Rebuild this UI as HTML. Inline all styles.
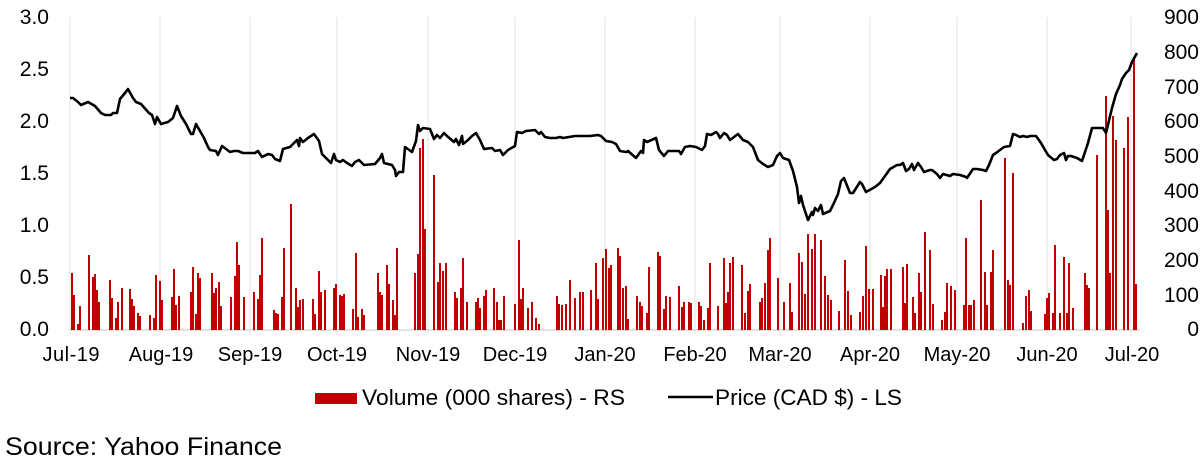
<!DOCTYPE html>
<html><head><meta charset="utf-8"><style>
body{margin:0;background:#fff;}
svg{display:block;font-family:"Liberation Sans",Arial,sans-serif;}
</style></head><body>
<svg width="1201" height="464" viewBox="0 0 1201 464" xmlns="http://www.w3.org/2000/svg">
<g stroke="#e3e3e3" stroke-width="1">
<line x1="70" y1="17" x2="70" y2="335"/><line x1="160" y1="17" x2="160" y2="335"/><line x1="250" y1="17" x2="250" y2="335"/><line x1="337" y1="17" x2="337" y2="335"/><line x1="428" y1="17" x2="428" y2="335"/><line x1="515" y1="17" x2="515" y2="335"/><line x1="605" y1="17" x2="605" y2="335"/><line x1="695" y1="17" x2="695" y2="335"/><line x1="780" y1="17" x2="780" y2="335"/><line x1="870" y1="17" x2="870" y2="335"/><line x1="957" y1="17" x2="957" y2="335"/><line x1="1047" y1="17" x2="1047" y2="335"/><line x1="1131" y1="17" x2="1131" y2="335"/>
</g>
<line x1="70" y1="330" x2="1140" y2="330" stroke="#d9d9d9" stroke-width="1.5"/>
<path fill="#c00000" d="M71,330V273h2V330zM73,330V295h2V330zM77,330V324h2V330zM79,330V306h2V330zM88,330V255h2V330zM92,330V277h2V330zM94,330V274h2V330zM96,330V290h2V330zM98,330V302h2V330zM109,330V280h2V330zM111,330V298h2V330zM115,330V318h2V330zM117,330V302h2V330zM121,330V288h2V330zM129,330V289h2V330zM131,330V299h2V330zM133,330V306h2V330zM137,330V313h2V330zM139,330V316h2V330zM149,330V315h2V330zM153,330V318h2V330zM155,330V275h2V330zM159,330V281h2V330zM161,330V300h2V330zM171,330V297h2V330zM173,330V269h2V330zM175,330V305h2V330zM178,330V296h2V330zM190,330V292h2V330zM192,330V267h2V330zM195,330V314h2V330zM197,330V273h2V330zM199,330V278h2V330zM211,330V273h2V330zM213,330V293h2V330zM215,330V288h2V330zM218,330V282h2V330zM220,330V306h2V330zM230,330V297h2V330zM234,330V276h2V330zM236,330V242h2V330zM238,330V265h2V330zM243,330V297h2V330zM253,330V292h2V330zM257,330V299h2V330zM259,330V275h2V330zM261,330V238h2V330zM273,330V310h2V330zM275,330V313h2V330zM277,330V314h2V330zM281,330V297h2V330zM283,330V248h2V330zM290,330V204h2V330zM295,330V288h2V330zM297,330V307h2V330zM299,330V300h2V330zM302,330V299h2V330zM312,330V299h2V330zM314,330V314h2V330zM318,330V271h2V330zM320,330V292h2V330zM324,330V290h2V330zM333,330V288h2V330zM335,330V284h2V330zM339,330V295h2V330zM341,330V296h2V330zM343,330V294h2V330zM352,330V309h2V330zM355,330V253h2V330zM357,330V317h2V330zM361,330V309h2V330zM363,330V315h2V330zM377,330V273h2V330zM379,330V292h2V330zM381,330V295h2V330zM386,330V265h2V330zM388,330V284h2V330zM392,330V300h2V330zM394,330V315h2V330zM396,330V248h2V330zM414,330V273h2V330zM417,330V254h2V330zM419,330V148h2V330zM422,330V139h2V330zM424,330V229h2V330zM433,330V175h2V330zM437,330V282h2V330zM439,330V263h2V330zM442,330V271h2V330zM445,330V263h2V330zM454,330V292h2V330zM456,330V298h2V330zM460,330V288h2V330zM462,330V258h2V330zM466,330V302h2V330zM475,330V302h2V330zM477,330V298h2V330zM479,330V308h2V330zM483,330V296h2V330zM485,330V290h2V330zM493,330V288h2V330zM496,330V302h2V330zM498,330V320h2V330zM500,330V320h2V330zM503,330V296h2V330zM514,330V304h2V330zM518,330V240h2V330zM520,330V299h2V330zM522,330V288h2V330zM527,330V308h2V330zM531,330V302h2V330zM535,330V318h2V330zM538,330V324h2V330zM556,330V296h2V330zM558,330V304h2V330zM561,330V305h2V330zM565,330V304h2V330zM569,330V280h2V330zM574,330V298h2V330zM579,330V292h2V330zM582,330V292h2V330zM590,330V290h2V330zM595,330V263h2V330zM597,330V299h2V330zM602,330V258h2V330zM605,330V249h2V330zM608,330V268h2V330zM610,330V265h2V330zM617,330V248h2V330zM619,330V256h2V330zM622,330V288h2V330zM625,330V286h2V330zM627,330V319h2V330zM636,330V296h2V330zM639,330V302h2V330zM641,330V306h2V330zM646,330V313h2V330zM648,330V267h2V330zM657,330V252h2V330zM659,330V256h2V330zM663,330V309h2V330zM665,330V296h2V330zM669,330V297h2V330zM678,330V286h2V330zM681,330V307h2V330zM683,330V302h2V330zM688,330V302h2V330zM690,330V303h2V330zM698,330V302h2V330zM700,330V306h2V330zM703,330V320h2V330zM707,330V308h2V330zM709,330V263h2V330zM717,330V306h2V330zM723,330V258h2V330zM725,330V303h2V330zM727,330V292h2V330zM729,330V263h2V330zM732,330V257h2V330zM741,330V265h2V330zM744,330V313h2V330zM747,330V291h2V330zM749,330V284h2V330zM759,330V302h2V330zM761,330V298h2V330zM764,330V283h2V330zM767,330V250h2V330zM769,330V238h2V330zM777,330V278h2V330zM783,330V302h2V330zM789,330V283h2V330zM791,330V312h2V330zM798,330V253h2V330zM801,330V262h2V330zM804,330V294h2V330zM807,330V234h2V330zM811,330V249h2V330zM814,330V234h2V330zM820,330V240h2V330zM824,330V276h2V330zM827,330V295h2V330zM830,330V300h2V330zM838,330V311h2V330zM844,330V260h2V330zM847,330V291h2V330zM850,330V315h2V330zM859,330V312h2V330zM862,330V296h2V330zM865,330V246h2V330zM868,330V289h2V330zM872,330V289h2V330zM880,330V275h2V330zM882,330V307h2V330zM884,330V276h2V330zM886,330V269h2V330zM890,330V269h2V330zM902,330V267h2V330zM904,330V303h2V330zM906,330V264h2V330zM912,330V297h2V330zM914,330V313h2V330zM918,330V273h2V330zM920,330V292h2V330zM924,330V232h2V330zM929,330V250h2V330zM932,330V304h2V330zM941,330V320h2V330zM944,330V312h2V330zM946,330V283h2V330zM950,330V286h2V330zM954,330V290h2V330zM963,330V305h2V330zM965,330V238h2V330zM968,330V305h2V330zM970,330V305h2V330zM973,330V300h2V330zM980,330V200h2V330zM984,330V272h2V330zM986,330V305h2V330zM990,330V272h2V330zM992,330V250h2V330zM1004,330V158h2V330zM1007,330V280h2V330zM1009,330V285h2V330zM1012,330V173h2V330zM1022,330V323h2V330zM1025,330V296h2V330zM1028,330V290h2V330zM1030,330V311h2V330zM1044,330V314h2V330zM1046,330V298h2V330zM1048,330V293h2V330zM1052,330V313h2V330zM1054,330V245h2V330zM1059,330V313h2V330zM1063,330V257h2V330zM1066,330V313h2V330zM1068,330V263h2V330zM1072,330V308h2V330zM1084,330V273h2V330zM1086,330V285h2V330zM1088,330V288h2V330zM1096,330V155h2V330zM1105,330V96h2V330zM1107,330V210h2V330zM1109,330V273h2V330zM1112,330V116h2V330zM1115,330V140h2V330zM1123,330V148h2V330zM1127,330V117h2V330zM1133,330V57h2V330zM1135,330V284h2V330z"/>
<polyline fill="none" stroke="#000" stroke-width="2.6" stroke-linejoin="round" points="70,98 73,98 78,102 81,105 88,102 95,106 101,113 105,115 111,115 113,113 117,113 120,99 125,93 128,89 133,98 136,102 141,104 149,113 152,115 155,124 157,117 161,124 168,122 173,118 177,106 181,116 186,124 191,134 193,134 196,124 200,131 204,138 208,147 210,150 216,151 218,155 222,146 230,152 234,151 238,151 243,153 255,153 258,151 262,157 268,154 272,155 275,159 280,161 283,149 290,147 295,142 297,140 299,146 300,138 303,142 308,138 314,134 319,141 322,154 326,158 331,163 334,154 336,160 340,162 343,160 347,163 352,166 355,162 359,160 364,165 375,164 380,158 382,154 384,163 392,165 395,170 396,176 399,172 403,172 405,147 412,152 416,141 418,125 420,131 423,128 430,129 434,139 437,135 440,138 444,133 447,136 454,142 456,139 459,145 462,136 463,144 468,140 472,136 476,133 480,140 484,149 492,148 495,151 500,150 503,155 508,150 515,146 517,132 522,133 526,131 535,130 539,134 541,132 545,137 550,138 556,138 560,137 563,138 575,136 578,136 590,136 598,135 601,136 606,141 612,142 616,144 620,151 626,152 628,151 636,158 641,151 643,153 644,140 647,142 656,138 659,150 664,156 668,151 679,151 681,154 685,147 690,146 696,147 702,150 705,146 707,134 711,135 716,132 718,134 720,138 724,133 727,135 730,140 738,134 743,140 748,142 753,147 758,160 763,164 768,167 773,165 777,156 780,153 783,158 789,160 793,171 797,187 799,203 801,196 803,205 808,220 812,212 813,215 815,208 818,211 821,205 823,214 830,211 833,205 838,194 841,181 844,178 850,193 853,193 860,182 862,184 866,192 875,187 880,183 890,169 897,165 900,165 903,163 906,171 909,169 912,164 914,170 918,163 921,167 924,172 930,170 932,170 937,174 940,178 943,174 950,176 953,174 960,175 966,177 967,178 973,169 977,169 983,170 986,171 989,165 993,155 996,153 1000,150 1004,147 1010,146 1013,134 1016,135 1020,137 1023,136 1027,137 1030,136 1036,136 1041,143 1045,150 1048,155 1054,160 1057,159 1060,155 1064,153 1066,160 1068,156 1071,156 1077,158 1082,161 1085,152 1088,143 1092,128 1103,128 1106,133 1112,108 1116,94 1120,85 1122,79 1126,73 1129,70 1132,62 1137,53"/>
<g font-size="21" fill="#000" text-anchor="end">
<text x="49" y="24">3.0</text><text x="49" y="76">2.5</text><text x="49" y="128">2.0</text><text x="49" y="180">1.5</text><text x="49" y="232">1.0</text><text x="49" y="284">0.5</text><text x="49" y="336">0.0</text>
</g>
<g font-size="21" fill="#000" text-anchor="end">
<text x="1199" y="24">900</text><text x="1199" y="59">800</text><text x="1199" y="94">700</text><text x="1199" y="128">600</text><text x="1199" y="163">500</text><text x="1199" y="198">400</text><text x="1199" y="232">300</text><text x="1199" y="267">200</text><text x="1199" y="302">100</text><text x="1199" y="336">0</text>
</g>
<g font-size="20" fill="#000" text-anchor="middle">
<text x="71" y="361" textLength="57">Jul-19</text><text x="161" y="361">Aug-19</text><text x="250" y="361">Sep-19</text><text x="337" y="361">Oct-19</text><text x="428" y="361">Nov-19</text><text x="515" y="361">Dec-19</text><text x="605" y="361">Jan-20</text><text x="695" y="361">Feb-20</text><text x="780" y="361">Mar-20</text><text x="870" y="361">Apr-20</text><text x="957" y="361">May-20</text><text x="1047" y="361">Jun-20</text><text x="1132" y="361">Jul-20</text>
</g>
<rect x="315" y="393" width="42" height="11" fill="#c00000"/>
<text x="362" y="405" font-size="22" textLength="263" lengthAdjust="spacingAndGlyphs">Volume (000 shares) - RS</text>
<line x1="668" y1="397" x2="713" y2="397" stroke="#000" stroke-width="2.6"/>
<text x="715" y="405" font-size="22" textLength="187" lengthAdjust="spacingAndGlyphs">Price (CAD $) - LS</text>
<text x="5" y="455" font-size="25" textLength="277" lengthAdjust="spacingAndGlyphs">Source: Yahoo Finance</text>
</svg>
</body></html>
